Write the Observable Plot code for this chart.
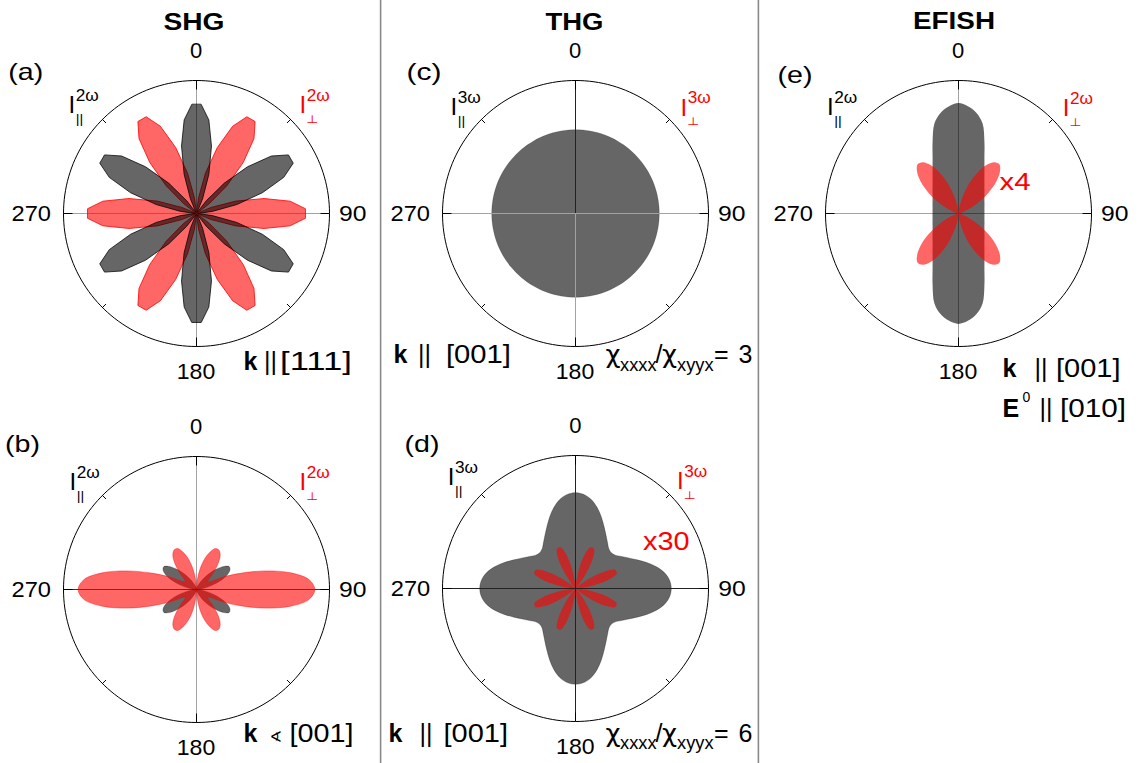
<!DOCTYPE html>
<html>
<head>
<meta charset="utf-8">
<script src="https://cdn.jsdelivr.net/npm/d3@7"></script>
<script src="https://cdn.jsdelivr.net/npm/@observablehq/plot@0.6"></script>
<style>
  html, body { margin: 0; padding: 0; background: #fff; }
  #fig { position: relative; width: 1141px; height: 763px; overflow: hidden; background: #fff; }
</style>
</head>
<body>
<div id="fig"></div>
<script>
// ---------------------------------------------------------------
// Polarisation dependence of SHG, THG and EFISH intensities.
// Angle is measured clockwise from the top (0) of each polar frame;
// radii are in units of the outer ring.
// ---------------------------------------------------------------

// sampling angles (degrees)
const deg5 = [0,5,10,15,20,25,30,35,40,45,50,55,60,65,70,75,80,85,90,95,100,105,110,115,120,125,130,135,140,145,150,155,160,165,170,175,180,185,190,195,200,205,210,215,220,225,230,235,240,245,250,255,260,265,270,275,280,285,290,295,300,305,310,315,320,325,330,335,340,345,350,355];
const deg5Mid = [2.5,7.5,12.5,17.5,22.5,27.5,32.5,37.5,42.5,47.5,52.5,57.5,62.5,67.5,72.5,77.5,82.5,87.5,92.5,97.5,102.5,107.5,112.5,117.5,122.5,127.5,132.5,137.5,142.5,147.5,152.5,157.5,162.5,167.5,172.5,177.5,182.5,187.5,192.5,197.5,202.5,207.5,212.5,217.5,222.5,227.5,232.5,237.5,242.5,247.5,252.5,257.5,262.5,267.5,272.5,277.5,282.5,287.5,292.5,297.5,302.5,307.5,312.5,317.5,322.5,327.5,332.5,337.5,342.5,347.5,352.5,357.5];

// (a) SHG, k || [111]
const shgPar111 = [
  .82,.71,.52,.31,.12,.01,.01,.12,.31,.52,.71,.82, .82,.71,.52,.31,.12,.01,.01,.12,.31,.52,.71,.82,
  .82,.71,.52,.31,.12,.01,.01,.12,.31,.52,.71,.82, .82,.71,.52,.31,.12,.01,.01,.12,.31,.52,.71,.82,
  .82,.71,.52,.31,.12,.01,.01,.12,.31,.52,.71,.82, .82,.71,.52,.31,.12,.01,.01,.12,.31,.52,.71,.82];
const shgPerp111 = [
  .01,.12,.31,.52,.71,.82,.82,.71,.52,.31,.12,.01, .01,.12,.31,.52,.71,.82,.82,.71,.52,.31,.12,.01,
  .01,.12,.31,.52,.71,.82,.82,.71,.52,.31,.12,.01, .01,.12,.31,.52,.71,.82,.82,.71,.52,.31,.12,.01,
  .01,.12,.31,.52,.71,.82,.82,.71,.52,.31,.12,.01, .01,.12,.31,.52,.71,.82,.82,.71,.52,.31,.12,.01];

// (b) SHG, k tilted from [001]
const shgParTilt = [
  0,0,.01,.02,.03,.05,.08,.12,.17,.22,.27,.30,.29,.25,.19,.12,.06,.02,0,
  .02,.06,.12,.19,.25,.29,.30,.27,.22,.17,.12,.08,.05,.03,.02,.01,0,
  0,0,.01,.02,.03,.05,.08,.12,.17,.22,.27,.30,.29,.25,.19,.12,.06,.02,0,
  .02,.06,.12,.19,.25,.29,.30,.27,.22,.17,.12,.08,.05,.03,.02,.01,0];
const shgPerpTilt = [
  0,.07,.16,.24,.30,.34,.34,.31,.25,.18,.12,.10,.12,.22,.36,.54,.72,.85,.89,
  .85,.72,.54,.36,.22,.12,.10,.12,.18,.25,.31,.34,.34,.30,.24,.16,.07,
  0,.07,.16,.24,.30,.34,.34,.31,.25,.18,.12,.10,.12,.22,.36,.54,.72,.85,.89,
  .85,.72,.54,.36,.22,.12,.10,.12,.18,.25,.31,.34,.34,.30,.24,.16,.07];

// (c) THG, chi_xxxx / chi_xyyx = 3 (isotropic)
const thgPar3 = [
  .63,.63,.63,.63,.63,.63,.63,.63,.63,.63,.63,.63,.63,.63,.63,.63,.63,.63,
  .63,.63,.63,.63,.63,.63,.63,.63,.63,.63,.63,.63,.63,.63,.63,.63,.63,.63,
  .63,.63,.63,.63,.63,.63,.63,.63,.63,.63,.63,.63,.63,.63,.63,.63,.63,.63,
  .63,.63,.63,.63,.63,.63,.63,.63,.63,.63,.63,.63,.63,.63,.63,.63,.63,.63];

// (d) THG, chi_xxxx / chi_xyyx = 6 (perpendicular part shown x30)
const thgPar6 = [
  .72,.71,.68,.63,.57,.51,.46,.42,.39,.38,.39,.42,.46,.51,.57,.63,.68,.71,
  .72,.71,.68,.63,.57,.51,.46,.42,.39,.38,.39,.42,.46,.51,.57,.63,.68,.71,
  .72,.71,.68,.63,.57,.51,.46,.42,.39,.38,.39,.42,.46,.51,.57,.63,.68,.71,
  .72,.71,.68,.63,.57,.51,.46,.42,.39,.38,.39,.42,.46,.51,.57,.63,.68,.71];
const thgPerp6x30 = [
  0,.04,.14,.26,.33,.33,.26,.14,.04, 0,.04,.14,.26,.33,.33,.26,.14,.04,
  0,.04,.14,.26,.33,.33,.26,.14,.04, 0,.04,.14,.26,.33,.33,.26,.14,.04,
  0,.04,.14,.26,.33,.33,.26,.14,.04, 0,.04,.14,.26,.33,.33,.26,.14,.04,
  0,.04,.14,.26,.33,.33,.26,.14,.04, 0,.04,.14,.26,.33,.33,.26,.14,.04];

// (e) EFISH, k || [001], E0 || [010] (perpendicular part shown x4)
const efishPar = [
  .83,.81,.77,.70,.570,.461,.390,.340,.303,.276,.255,.238,.225,.215,.208,.202,.198,.196,.195,
  .196,.198,.202,.208,.215,.225,.238,.255,.276,.303,.340,.390,.461,.570,.70,.77,.81,
  .83,.81,.77,.70,.570,.461,.390,.340,.303,.276,.255,.238,.225,.215,.208,.202,.198,.196,.195,
  .196,.198,.202,.208,.215,.225,.238,.255,.276,.303,.340,.390,.461,.570,.70,.77,.81];
const efishPerpX4 = [
  0,.02,.07,.15,.25,.34,.42,.47,.48,.44,.37,.28,.19,.11,.05,.02,.01,0,0,
  0,.01,.02,.05,.11,.19,.28,.37,.44,.48,.47,.42,.34,.25,.15,.07,.02,
  0,.02,.07,.15,.25,.34,.42,.47,.48,.44,.37,.28,.19,.11,.05,.02,.01,0,0,
  0,.01,.02,.05,.11,.19,.28,.37,.44,.48,.47,.42,.34,.25,.15,.07,.02];

// text
const columnTitles = ["SHG", "THG", "EFISH"];
const panelTags = ["(a)", "(b)", "(c)", "(d)", "(e)"];
const angleLabels = ["0", "90", "180", "270"];
const majorTickAngles = [0, 90, 180, 270];
const minorTickAngles = [45, 135, 225, 315];

// ---------------------------------------------------------------
const SANS = '"Liberation Sans", Arial, Helvetica, sans-serif';
const SYM = '"DejaVu Sans", "Liberation Sans", sans-serif';
const RED = "#ff0000";
const RING_PX = 133;            // outer ring radius in pixels
const BOX = 300;                // size of each polar frame
const R = (BOX / 2) / RING_PX;  // scale half-extent in ring units
const rad = Math.PI / 180;

const toXY = (deg, r) => deg.map((a, i) => ({x: r[i] * Math.sin(a * rad), y: r[i] * Math.cos(a * rad)}));
const ring = d3.range(0, 360, 2).map(a => ({x: Math.sin(a * rad), y: Math.cos(a * rad)}));
const ticks = [
  ...majorTickAngles.map(a => ({a, len: 9 / RING_PX})),
  ...minorTickAngles.map(a => ({a, len: 5 / RING_PX}))
].map(({a, len}) => ({
  x1: Math.sin(a * rad), y1: Math.cos(a * rad),
  x2: (1 - len) * Math.sin(a * rad), y2: (1 - len) * Math.cos(a * rad)
}));

const GRAY = "#a3a3a3";
const black = (deg, r, extra = {}) => ({deg, r, fill: "#000", stroke: "#000", strokeOpacity: 0.35, strokeWidth: 0.8, curve: "catmull-rom-closed", ...extra});
const red = (deg, r, extra = {}) => ({deg, r, fill: RED, stroke: RED, strokeOpacity: 0.5, strokeWidth: 0.8, curve: "catmull-rom-closed", ...extra});

const panels = [
  { cx: 196, cy: 213,
    under: [{dir: "v", from: -1, to: 1, color: GRAY}, {dir: "h", from: -1, to: 1, color: GRAY}],
    shapes: [
      red(deg5Mid, shgPerp111, {curve: "linear-closed", strokeOpacity: 0.8, strokeWidth: 1}),
      black(deg5Mid, shgPar111, {curve: "linear-closed", strokeOpacity: 0.75, strokeWidth: 1})
    ], over: [] },
  { cx: 196, cy: 589.3,
    under: [{dir: "v", from: -1, to: 1, color: GRAY}, {dir: "h", from: -1, to: 1, color: "#333"}],
    shapes: [black(deg5, shgParTilt), red(deg5, shgPerpTilt)], over: [] },
  { cx: 575, cy: 213.3,
    under: [],
    shapes: [black(deg5, thgPar3, {strokeOpacity: 0.2})],
    over: [{dir: "v", from: 0, to: 1, color: "#222"}, {dir: "v", from: -1, to: 0, color: GRAY}, {dir: "h", from: -1, to: 1, color: GRAY}] },
  { cx: 575.3, cy: 588.3,
    under: [],
    shapes: [black(deg5, thgPar6), red(deg5, thgPerp6x30, {stroke: "none"})],
    over: [{dir: "v", from: -1, to: 1, color: "#222"}, {dir: "h", from: -1, to: 1, color: "#222"}] },
  { cx: 958, cy: 213.3,
    under: [{dir: "v", from: -1, to: 1, color: GRAY}, {dir: "h", from: -1, to: 1, color: GRAY}],
    shapes: [black(deg5, efishPar, {stroke: "none"}), red(deg5, efishPerpX4, {stroke: "none"})], over: [] }
];

const fig = document.getElementById("fig");

function axisSeg(s) {
  return s.dir === "v"
    ? Plot.ruleX([0], {y1: s.from, y2: s.to, stroke: s.color, strokeWidth: 1})
    : Plot.ruleY([0], {x1: s.from, x2: s.to, stroke: s.color, strokeWidth: 1});
}

for (const p of panels) {
  const marks = [
    ...p.under.map(axisSeg),
    ...p.shapes.map(s => Plot.line(toXY(s.deg, s.r), {
      x: "x", y: "y", curve: s.curve,
      fill: s.fill, fillOpacity: 0.6,
      stroke: s.stroke, strokeOpacity: s.strokeOpacity, strokeWidth: s.strokeWidth
    })),
    ...p.over.map(axisSeg),
    Plot.line(ring, {x: "x", y: "y", curve: "linear-closed", stroke: "#000", strokeWidth: 1}),
    Plot.link(ticks, {x1: "x1", y1: "y1", x2: "x2", y2: "y2", stroke: "#000", strokeWidth: 1})
  ];
  const svg = Plot.plot({
    width: BOX, height: BOX, margin: 0,
    x: {domain: [-R, R], axis: null},
    y: {domain: [-R, R], axis: null},
    marks
  });
  svg.style.position = "absolute";
  svg.style.left = (p.cx - BOX / 2) + "px";
  svg.style.top = (p.cy - BOX / 2) + "px";
  svg.style.background = "transparent";
  svg.style.overflow = "visible";
  fig.appendChild(svg);
}

// ---------------- labels ----------------
const ov = d3.select(fig).append("svg")
  .attr("width", 1141).attr("height", 763)
  .style("position", "absolute").style("left", "0px").style("top", "0px");

function put(t) {
  const el = ov.append("text")
    .attr("x", t.x).attr("y", t.y).text(t.t)
    .attr("font-size", t.size)
    .attr("font-family", t.family || SANS)
    .attr("fill", t.color || "#000")
    .attr("text-anchor", t.anchor || "start");
  if (t.bold) el.attr("font-weight", "bold");
  if (t.len) el.attr("textLength", t.len).attr("lengthAdjust", "spacingAndGlyphs");
}

// column separators
ov.append("line").attr("x1", 380.6).attr("x2", 380.6).attr("y1", 0).attr("y2", 763).attr("stroke", "#8a8a8a").attr("stroke-width", 1.6);
ov.append("line").attr("x1", 758.4).attr("x2", 758.4).attr("y1", 0).attr("y2", 763).attr("stroke", "#8a8a8a").attr("stroke-width", 1.6);

// column titles
[[194, 29.5, 61], [574.5, 29.5, 58], [954, 29, 82]].forEach(([x, y, len], i) =>
  put({t: columnTitles[i], x, y, len, size: 24, bold: true, anchor: "middle"}));

// panel tags
[[8.3, 80], [5, 452.3], [406.5, 80], [404.5, 451.7], [777.5, 83.3]].forEach(([x, y], i) =>
  put({t: panelTags[i], x, y, size: 24, len: 35}));

// angle labels around each ring
for (const p of panels) {
  put({t: angleLabels[0], x: p.cx, y: p.cy - 155.5, size: 22, anchor: "middle"});
  put({t: angleLabels[1], x: p.cx + 143, y: p.cy + 7.5, size: 22, len: 27.5});
  put({t: angleLabels[2], x: p.cx, y: p.cy + 165.5, size: 22, anchor: "middle", len: 38.5});
  put({t: angleLabels[3], x: p.cx - 145, y: p.cy + 7.5, size: 22, anchor: "end", len: 39.5});
}

// intensity labels I_par^{n w} (black) and I_perp^{n w} (red)
function intensityLabel(x, y, harmonic, parallel) {
  const color = parallel ? "#000" : RED;
  put({t: "I", x: x - 2.2, y, size: 24, color});
  put({t: harmonic, x: x + 5, y: y - 12.5, size: 16, len: 23, color});
  if (parallel) put({t: "||", x: x + 5, y: y + 9.5, size: 13, len: 7.5, color});
  else put({t: "\u22A5", x: x + 4.5, y: y + 9.7, size: 11, len: 12, color, family: SYM});
}
[
  [70.7, 113.3, 301.7, 113.3, "2\u03c9"],
  [71.7, 490, 301.7, 490, "2\u03c9"],
  [452.7, 115, 682.7, 115.5, "3\u03c9"],
  [450, 485, 679.3, 489, "3\u03c9"],
  [829.3, 115, 1065, 116, "2\u03c9"]
].forEach(([xp, yp, xs, ys, h]) => {
  intensityLabel(xp, yp, h, true);
  intensityLabel(xs, ys, h, false);
});

// geometry annotations
put({t: "k", x: 243.5, y: 370, size: 25, bold: true});
put({t: "||", x: 264, y: 370, size: 25});
put({t: "[111]", x: 280, y: 370, size: 25, len: 72});

put({t: "k", x: 243.5, y: 741.7, size: 25, bold: true});
put({t: "\u2222", x: 269.5, y: 741.7, size: 15, len: 12.5, family: SYM});
put({t: "[001]", x: 289.5, y: 741.7, size: 25, len: 64});

put({t: "k", x: 393.5, y: 363.3, size: 25, bold: true});
put({t: "||", x: 418, y: 363.3, size: 25});
put({t: "[001]", x: 446, y: 363.3, size: 25, len: 65});

put({t: "k", x: 388.5, y: 741.7, size: 25, bold: true});
put({t: "||", x: 419.5, y: 741.7, size: 25});
put({t: "[001]", x: 443.5, y: 741.7, size: 25, len: 64.5});

put({t: "k", x: 1002.5, y: 376.7, size: 25, bold: true});
put({t: "||", x: 1034.5, y: 376.7, size: 25});
put({t: "[001]", x: 1056, y: 376.7, size: 25, len: 64.5});
put({t: "E", x: 1002.5, y: 416.7, size: 25, bold: true});
put({t: "0", x: 1022.5, y: 402, size: 14});
put({t: "||", x: 1039.5, y: 416.7, size: 25});
put({t: "[010]", x: 1060, y: 416.7, size: 25, len: 66});

// susceptibility ratio labels
function ratioLabel(y, value) {
  put({t: "\u03c7", x: 605.5, y, size: 24, family: SYM, len: 15});
  put({t: "xxxx", x: 620, y: y + 7.5, size: 18, len: 36.5});
  put({t: "/", x: 655.5, y, size: 25});
  put({t: "\u03c7", x: 662, y, size: 24, family: SYM, len: 15});
  put({t: "xyyx", x: 677, y: y + 7.5, size: 18, len: 36.5});
  put({t: "=", x: 714, y, size: 25});
  put({t: value, x: 738.5, y, size: 25});
}
ratioLabel(363.3, "3");
ratioLabel(741.7, "6");

// magnification notes for the perpendicular components
put({t: "x4", x: 999.5, y: 190, size: 23, len: 31, color: RED});
put({t: "x30", x: 643, y: 550, size: 25, len: 46.5, color: RED});
</script>
</body>
</html>
